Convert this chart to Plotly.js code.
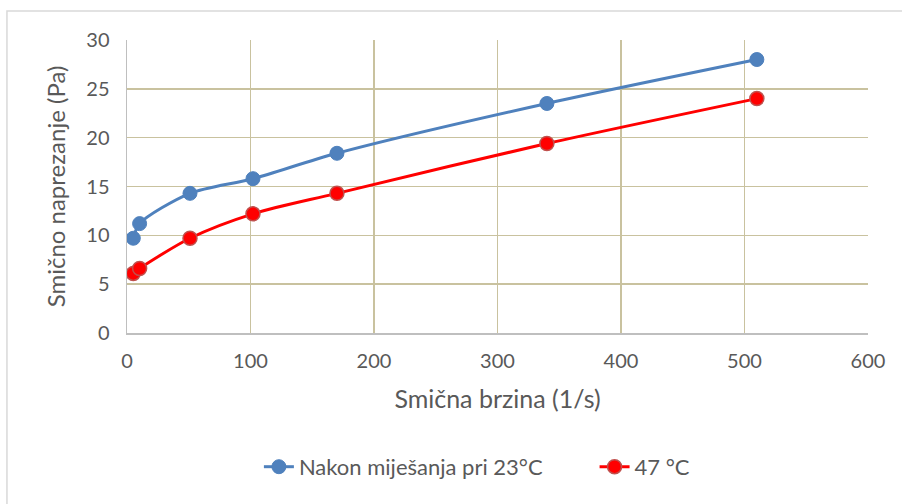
<!DOCTYPE html>
<html>
<head>
<meta charset="utf-8">
<script src="https://cdn.plot.ly/plotly-3.0.1.min.js"></script>
<style>html,body{margin:0;padding:0;background:#fff;}#chart{width:902px;height:504px;}</style>
</head>
<body>
<div id="chart"></div>
<script>
const shearRate = [5.1, 10.2, 51, 102, 170, 340, 510];
const stress23 = [9.7, 11.2, 14.3, 15.8, 18.4, 23.5, 28.0];
const stress47 = [6.1, 6.6, 9.7, 12.2, 14.3, 19.4, 24.0];
const seriesNames = ["Nakon miješanja pri 23°C", "47 °C"];
const xTicks = [0, 100, 200, 300, 400, 500, 600];
const yTicks = [0, 5, 10, 15, 20, 25, 30];

const font = "Lato, 'Open Sans', sans-serif";
const legendFont = {family: font, size: 22, color: '#595959'};
const traces = [
  {x: shearRate, y: stress23, name: seriesNames[0], type: 'scatter', mode: 'lines+markers', legend: 'legend',
   line: {color: '#4f81bd', width: 3, shape: 'spline', smoothing: 0.8},
   marker: {color: '#4f81bd', size: 14, line: {color: '#4f81bd', width: 1}}},
  {x: shearRate, y: stress47, name: seriesNames[1], type: 'scatter', mode: 'lines+markers', legend: 'legend2',
   line: {color: '#ff0000', width: 3, shape: 'spline', smoothing: 0.8},
   marker: {color: '#ff0000', size: 14, line: {color: '#c0504d', width: 1.5}}}
];
const layout = {
  width: 902, height: 504,
  margin: {l: 127, r: 34, t: 40, b: 171},
  paper_bgcolor: '#fff', plot_bgcolor: '#fff',
  font: {family: font, size: 20, color: '#595959'},
  showlegend: true,
  legend: {orientation: 'h', x: 0.178, xanchor: 'left', y: -0.457, yanchor: 'middle',
           font: legendFont, bgcolor: 'rgba(0,0,0,0)'},
  legend2: {orientation: 'h', x: 0.631, xanchor: 'left', y: -0.457, yanchor: 'middle',
           font: legendFont, bgcolor: 'rgba(0,0,0,0)'},
  xaxis: {range: [0, 600], tickvals: xTicks, ticktext: xTicks.map(String),
          tickfont: {family: font, size: 20, color: '#595959'},
          showgrid: true, gridcolor: '#c9c29f', gridwidth: 1.5, zeroline: false,
          showline: true, linecolor: '#bfbfbf', linewidth: 1.5, ticks: '',
          ticklabelstandoff: 9, fixedrange: true,
          title: {text: 'Smična brzina (1/s)', font: {family: font, size: 25, color: '#595959'}, standoff: 20}},
  yaxis: {range: [0, 30], tickvals: yTicks, ticktext: yTicks.map(String),
          tickfont: {family: font, size: 20, color: '#595959'},
          showgrid: true, gridcolor: '#c9c29f', gridwidth: 1.5, zeroline: false,
          showline: true, linecolor: '#bfbfbf', linewidth: 1.5, ticks: '',
          ticklabelstandoff: 12, fixedrange: true,
          title: {text: 'Smično naprezanje (Pa)', font: {family: font, size: 24, color: '#595959'}, standoff: 14}},
  shapes: [
    {type: 'rect', xref: 'paper', yref: 'paper', x0: -0.162, x1: 1.3, y0: -0.7, y1: 1.099,
     line: {color: '#d9d9d9', width: 1.5}, fillcolor: 'rgba(0,0,0,0)', layer: 'below'}
  ]
};
Plotly.newPlot('chart', traces, layout, {displayModeBar: false, staticPlot: true});
</script>
</body>
</html>
